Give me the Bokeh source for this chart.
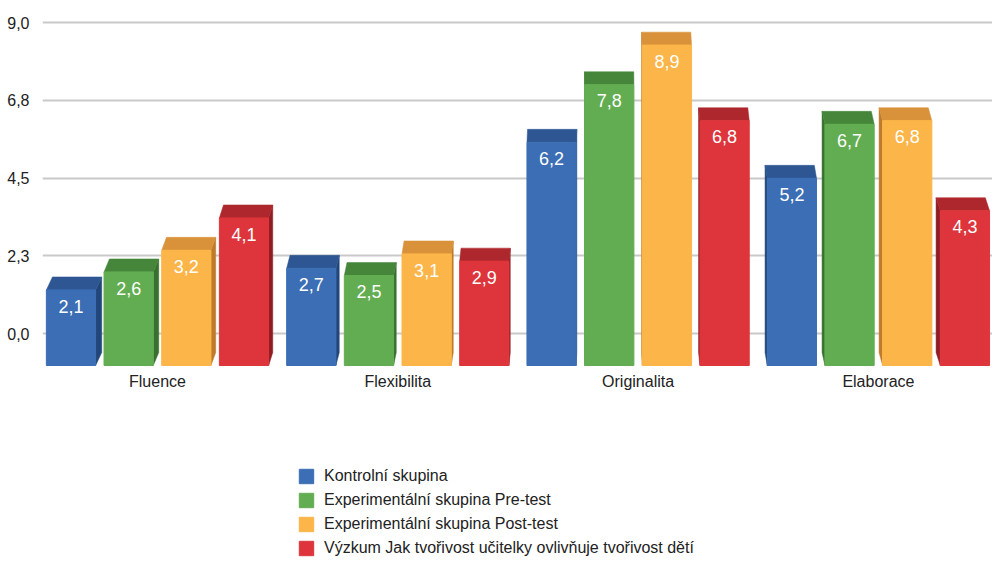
from bokeh.plotting import figure
from bokeh.models import Range1d, FixedTicker, Legend, LegendItem, ColumnDataSource
from bokeh.core.properties import value
from bokeh.embed import file_html
from bokeh.resources import INLINE

categories = ["Fluence", "Flexibilita", "Originalita", "Elaborace"]
series_names = [
    "Kontrolní skupina",
    "Experimentální skupina Pre-test",
    "Experimentální skupina Post-test",
    "Výzkum Jak tvořivost učitelky ovlivňuje tvořivost dětí",
]
kontrolni = [2.1, 2.7, 6.2, 5.2]
pre_test = [2.6, 2.5, 7.8, 6.7]
post_test = [3.2, 3.1, 8.9, 6.8]
vyzkum = [4.1, 2.9, 6.8, 4.3]
series_values = [kontrolni, pre_test, post_test, vyzkum]
tick_values = [0.0, 2.25, 4.5, 6.75, 9.0]
tick_labels = ["0,0", "2,3", "4,5", "6,8", "9,0"]

front_colors = ["#3b6eb4", "#62ad51", "#fcb548", "#dd353b"]
top_colors = ["#2d5693", "#45863a", "#d99239", "#ad272d"]
side_colors = ["#22467a", "#38712f", "#bf7b2b", "#8f1d23"]

FONT = value("Liberation Sans")

W, H = 992, 561
LEFT = 42
# main (gridline) scale: 0 at px 333, 9 at px 22
pxu = (333 - 22) / 9.0
y_main = Range1d(-(H - 333) / pxu, 9.0 + 22 / pxu)
# front-plane scale for the 3D bars: base at px 365
fpx = 36.0
y_front = Range1d(-(H - 365) / fpx, 365 / fpx)
# x scale: category centres at px 157 + i*240.3
cpx = 240.3
x_rng = Range1d((LEFT - 157) / cpx, (W - 157) / cpx)

p = figure(width=W, height=H, x_range=x_rng, y_range=y_main,
           output_backend="svg", toolbar_location=None,
           min_border_left=LEFT, min_border_right=0, min_border_top=0, min_border_bottom=0)
p.extra_y_ranges = {"front": y_front}
p.outline_line_color = None
p.background_fill_color = "white"
p.border_fill_color = "white"
p.xaxis.visible = False
p.xgrid.visible = False

p.yaxis.ticker = FixedTicker(ticks=tick_values)
p.yaxis.major_label_overrides = {t: l for t, l in zip(tick_values, tick_labels)}
p.yaxis.axis_line_color = None
p.yaxis.major_tick_line_color = None
p.yaxis.minor_tick_line_color = None
p.yaxis.major_label_standoff = 7
p.yaxis.major_label_text_font = "Liberation Sans"
p.yaxis.major_label_text_font_size = "16px"
p.yaxis.major_label_text_color = "#222222"
p.ygrid.ticker = FixedTicker(ticks=tick_values)
p.ygrid.grid_line_color = "#c9c9c9"
p.ygrid.grid_line_width = 2

offsets = [-0.36, -0.12, 0.12, 0.36]
bw = 0.205
vanish_x = (600 - 157) / cpx
shrink = 0.0115
depth = 0.36

# side and top faces first
for si, vals in enumerate(series_values):
    top_xs, top_ys, side_xs, side_ys = [], [], [], []
    for ci, v in enumerate(vals):
        xc = ci + offsets[si]
        x0, x1 = xc - bw / 2, xc + bw / 2
        dx = (vanish_x - xc) * shrink
        top_xs.append([x0, x1, x1 + dx, x0 + dx])
        top_ys.append([v, v, v + depth, v + depth])
        xe = x1 if dx > 0 else x0
        side_xs.append([xe, xe, xe + dx, xe + dx])
        side_ys.append([0, v, v + depth, depth])
    p.patches(side_xs, side_ys, y_range_name="front", fill_color=side_colors[si],
              line_color=side_colors[si], line_width=0.5)
    p.patches(top_xs, top_ys, y_range_name="front", fill_color=top_colors[si],
              line_color=top_colors[si], line_width=0.5)

renderers = []
for si, vals in enumerate(series_values):
    xs = [ci + offsets[si] for ci in range(len(categories))]
    src = ColumnDataSource(dict(
        left=[x - bw / 2 for x in xs], right=[x + bw / 2 for x in xs],
        top=vals, bottom=[0] * len(vals),
        ty=[v - 0.45 for v in vals], x=xs,
        lbl=[f"{v:.1f}".replace(".", ",") for v in vals]))
    r = p.quad(left="left", right="right", top="top", bottom="bottom", source=src,
               y_range_name="front", fill_color=front_colors[si], line_color=front_colors[si])
    renderers.append(r)
    p.text(x="x", y="ty", text="lbl", source=src, y_range_name="front",
           text_color="white", text_font=FONT, text_font_size="18px",
           text_align="center", text_baseline="middle")

p.text(x=list(range(len(categories))), y=[-16 / fpx] * len(categories), text=categories,
       y_range_name="front", text_color="#222222", text_font=FONT, text_font_size="16px",
       text_align="center", text_baseline="middle")

legend = Legend(items=[LegendItem(label=n, renderers=[r]) for n, r in zip(series_names, renderers)],
                location=(255, 4), orientation="vertical")
legend.glyph_width = 18
legend.glyph_height = 18
legend.label_height = 18
legend.spacing = 6
legend.padding = 0
legend.margin = 0
legend.label_standoff = 9
legend.label_text_font = "Liberation Sans"
legend.label_text_font_size = "16px"
legend.label_text_color = "#222222"
legend.border_line_color = None
legend.background_fill_alpha = 0
p.add_layout(legend)

open("out.html", "w").write(file_html(p, INLINE))
